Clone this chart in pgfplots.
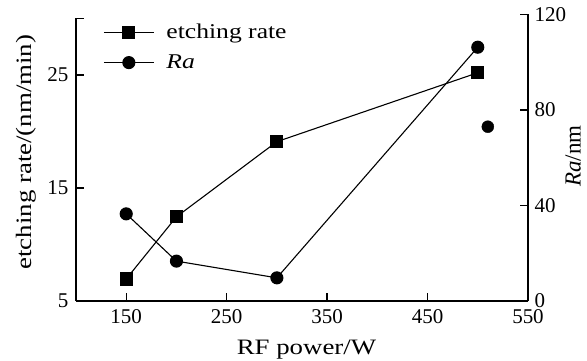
\documentclass[border=0pt]{standalone}
\usepackage{pgfplots}
\pgfplotsset{compat=1.18}
\usepackage{fontspec}
\setmainfont{Liberation Serif}
\newfontfamily\labelfont{Liberation Serif}[FakeStretch=1.22]
\begin{document}
\begin{tikzpicture}
\pgfplotsset{
  myaxis/.style={
    scale only axis, width=452pt,
    xmin=100, xmax=550,
    axis line style={-, line width=1.6pt},
    tick style={line width=1.3pt, black},
    major tick length=8pt,
    tick align=inside,
    /pgf/number format/assume math mode=true,
    ticklabel style={font=\fontsize{21}{21}\selectfont},
    label style={font=\labelfont\fontsize{22}{22}\selectfont},
  }
}
\begin{axis}[myaxis,
  height=282.5pt,
  ymin=5, ymax=30,
  axis x line*=bottom, axis y line*=left,
  xtick={150,250,350,450,550},
  ytick={5,15,25}, extra y ticks={30}, extra y tick labels={},
  xticklabel style={yshift=-5pt},
  yticklabel style={xshift=-4pt},
  xlabel={RF power/W},
  ylabel={etching rate/(nm/min)},
  xlabel style={at={(axis description cs:0.51,-0.173)}, anchor=center},
  ylabel style={at={(axis description cs:-0.111,0.527)}, anchor=center},
  legend style={draw=none, fill=none, at={(axis description cs:0.06,0.897)}, anchor=west,
    inner sep=0pt, row sep=8pt,
    nodes={inner sep=0pt, text height=17pt, text depth=5pt, font=\labelfont\fontsize{21}{21}\selectfont}},
  legend cell align=left,
  legend image code/.code={
    \draw[mark repeat=2, mark phase=2, #1] plot coordinates {(0pt,0pt) (25pt,0pt) (50pt,0pt)};
    \path (62pt,0pt);
  },
]
\addplot[black, line width=1.1pt, mark=square*, mark size=6pt, mark options={solid}]
  coordinates {(150,6.95) (200,12.45) (300,19.1) (500,25.2)};
\addlegendentry{etching rate}
\addlegendimage{black, line width=1.1pt, mark=*, mark size=6pt}
\addlegendentry{\textit{Ra}}
\end{axis}
\begin{axis}[myaxis,
  height=286.5pt,
  ymin=0, ymax=120,
  axis x line=none, axis y line*=right,
  ytick={0,40,80,120},
  yticklabel style={xshift=3pt},
  ylabel={\textit{Ra}/nm},
  ylabel style={font=\fontsize{23}{23}\selectfont, at={(axis description cs:1.1,0.506)}, anchor=center},
]
\addplot[black, line width=1.1pt, mark=*, mark size=6pt]
  coordinates {(150,36.5) (200,16.7) (300,9.7) (500,106.3)};
\addplot[black, only marks, mark=*, mark size=6pt]
  coordinates {(510,73)};
\end{axis}
\pgfresetboundingbox
\useasboundingbox (-76pt,-60pt) rectangle (511pt,301pt);
\end{tikzpicture}
\end{document}
